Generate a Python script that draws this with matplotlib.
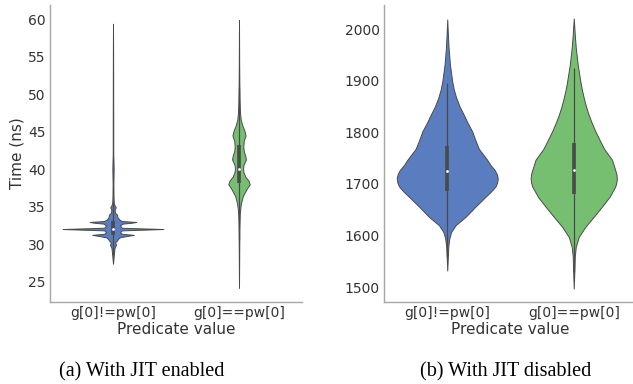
import numpy as np
import matplotlib
matplotlib.use("Agg")
import matplotlib.pyplot as plt

# ---------------- data ----------------
categories = ["g[0]!=pw[0]", "g[0]==pw[0]"]

# (a) JIT enabled: density profiles (value, half-width in category units)
jit_ne_y = [27.4, 28.5, 29.5, 29.8, 29.95, 30.1, 30.3, 30.45, 30.6, 30.9, 31.1, 31.25,
            31.4, 31.6, 31.85, 32.03, 32.2, 32.5, 32.75, 32.85, 32.97, 33.1, 33.3, 33.6,
            33.95, 34.2, 34.6, 34.85, 35.0, 35.2, 35.5, 36.5, 38.0, 40.0, 41.0, 42.0,
            45.0, 50.0, 55.0, 59.4]
jit_ne_w = [0.0, 0.006, 0.012, 0.02, 0.024, 0.02, 0.018, 0.03, 0.035, 0.05, 0.11, 0.165,
            0.07, 0.055, 0.07, 0.40, 0.07, 0.055, 0.075, 0.14, 0.185, 0.07, 0.05, 0.035,
            0.032, 0.016, 0.013, 0.02, 0.02, 0.012, 0.006, 0.004, 0.003, 0.005, 0.004,
            0.002, 0.002, 0.0015, 0.001, 0.0]
jit_eq_y = [24.2, 28.0, 32.0, 34.0, 34.8, 35.5, 36.4, 37.3, 38.0, 38.5, 39.0, 39.6, 40.1,
            40.6, 41.3, 41.8, 42.4, 43.0, 43.8, 44.5, 45.2, 45.8, 46.6, 47.5, 49.0, 51.0,
            54.0, 59.9]
jit_eq_w = [0.0, 0.0015, 0.003, 0.006, 0.01, 0.016, 0.03, 0.058, 0.085, 0.075, 0.05, 0.036,
            0.032, 0.036, 0.055, 0.05, 0.038, 0.034, 0.038, 0.052, 0.042, 0.027, 0.014,
            0.008, 0.005, 0.003, 0.0015, 0.0]
# box stats: whisker low, q1, median, q3, whisker high
jit_ne_box = [28.6, 31.27, 32.03, 33.04, 35.7]
jit_eq_box = [30.5, 38.1, 40.0, 43.25, 51.0]

# (b) JIT disabled
nojit_ne_y = [1532, 1578, 1594, 1607, 1620, 1636, 1656, 1675, 1685, 1695, 1703, 1711,
              1719, 1727, 1737, 1747, 1768, 1785, 1802, 1818, 1834, 1850, 1867, 1883,
              1899, 1932, 1964, 1990, 2019]
nojit_ne_w = [0.0, 0.008, 0.016, 0.031, 0.066, 0.144, 0.223, 0.302, 0.345, 0.381,
              0.395, 0.399, 0.392, 0.375, 0.341, 0.315, 0.25, 0.222, 0.197, 0.162, 0.131,
              0.098, 0.071, 0.052, 0.039, 0.021, 0.0105, 0.005, 0.0]
nojit_eq_y = [1497, 1532, 1559, 1578, 1597, 1617, 1636, 1656, 1675, 1695, 1703, 1711,
              1719, 1727, 1747, 1768, 1785, 1802, 1818, 1834, 1850, 1867, 1883, 1899,
              1932, 1964, 1990, 2021]
nojit_eq_w = [0.0, 0.005, 0.008, 0.016, 0.039, 0.092, 0.157, 0.223, 0.283, 0.328, 0.337,
              0.341, 0.337, 0.328, 0.302, 0.24, 0.205, 0.171, 0.143, 0.118, 0.097, 0.079,
              0.064, 0.052, 0.031, 0.016, 0.008, 0.0]
nojit_ne_box = [1558, 1687, 1725, 1773, 1896]
nojit_eq_box = [1530, 1680, 1727, 1780, 1925]

yticks_a = [25, 30, 35, 40, 45, 50, 55, 60]
yticks_b = [1500, 1600, 1700, 1800, 1900, 2000]

colors = ["#597dbf", "#76bf71"]
edge = "#4a4a4a"
text_c = "#333333"

fig = plt.figure(figsize=(6.33, 3.84), dpi=100)
ax_a = fig.add_axes([50/633, 82/384, 252/633, 297/384])
ax_b = fig.add_axes([384/633, 82/384, 253/633, 297/384])


def draw(ax, profiles, boxes):
    for i, ((ys, ws), box) in enumerate(zip(profiles, boxes)):
        ys = np.asarray(ys, float)
        ws = np.asarray(ws, float)
        st = dict(coords=ys, vals=ws, mean=box[2], median=box[2],
                  min=ys.min(), max=ys.max())
        parts = ax.violin([st], positions=[i], widths=[2 * ws.max()],
                          showmeans=False, showextrema=False, showmedians=False)
        for b in parts["bodies"]:
            b.set_facecolor(colors[i])
            b.set_edgecolor(edge)
            b.set_linewidth(0.7)
            b.set_alpha(1)
            b.set_joinstyle("round")
        ax.vlines(i, box[0], box[4], color=edge, lw=0.9, zorder=2)
        ax.vlines(i, box[1], box[3], color=edge, lw=2.6, zorder=3)
        ax.scatter([i], [box[2]], s=4, color="white", zorder=4, linewidths=0)
    ax.set_xlim(-0.5, 1.5)
    ax.set_xticks(range(len(categories)))
    ax.set_xticklabels(categories)
    for s in ["top", "right"]:
        ax.spines[s].set_visible(False)
    for s in ["left", "bottom"]:
        ax.spines[s].set_color("#a6a6a6")
        ax.spines[s].set_linewidth(1.0)
    ax.tick_params(length=0, labelsize=10, labelcolor=text_c, pad=3)
    ax.set_xlabel("Predicate value", fontsize=11, color=text_c, labelpad=1)


draw(ax_a, [(jit_ne_y, jit_ne_w), (jit_eq_y, jit_eq_w)], [jit_ne_box, jit_eq_box])
ax_a.set_ylim(22.3, 61.9)
ax_a.set_yticks(yticks_a)
ax_a.set_ylabel("Time (ns)", fontsize=11, color=text_c, labelpad=3)

draw(ax_b, [(nojit_ne_y, nojit_ne_w), (nojit_eq_y, nojit_eq_w)], [nojit_ne_box, nojit_eq_box])
ax_b.set_ylim(1471, 2047)
ax_b.set_yticks(yticks_b)

fig.text(142/633, 1 - 372/384, "(a) With JIT enabled", family="Liberation Serif",
         fontsize=14.5, ha="center", va="center", color="black")
fig.text(506/633, 1 - 372/384, "(b) With JIT disabled", family="Liberation Serif",
         fontsize=14.5, ha="center", va="center", color="black")

fig.savefig("out.png", dpi=100)
